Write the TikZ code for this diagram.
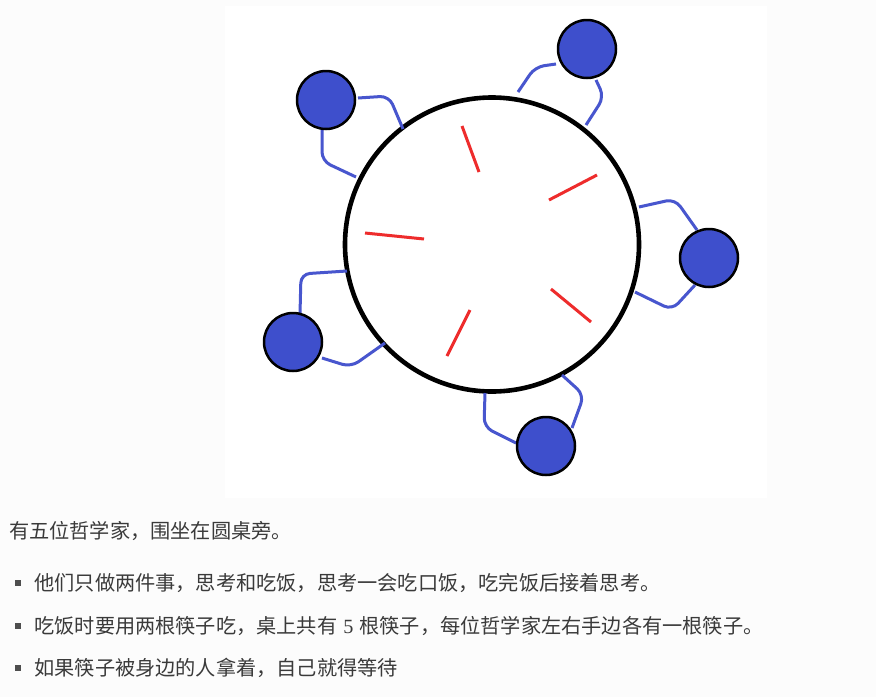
\documentclass[tikz,border=0pt]{standalone}
\usepackage{fontspec}
\newfontfamily\cjk{Noto Sans CJK SC}
\newfontfamily\numfont{Liberation Serif}
\usetikzlibrary{positioning}
\definecolor{philblue}{RGB}{62,79,204}
\definecolor{armblue}{RGB}{72,86,206}
\definecolor{stickred}{RGB}{238,44,44}
\definecolor{txtgray}{RGB}{58,58,58}
\definecolor{pagebg}{RGB}{252,252,252}
\tikzset{
  phil/.style={circle, draw=black, line width=2.5pt, fill=philblue, minimum size=58pt, inner sep=0pt},
  roundtable/.style={circle, draw=black, line width=4.6pt, fill=white, minimum size=294pt, inner sep=0pt},
  arm/.style={armblue, line width=3pt, rounded corners=9pt},
  stick/.style={stickred, line width=3pt},
  para/.style={txtgray, inner sep=0pt, font=\cjk\fontsize{20.2}{23}\selectfont},
  bulletbox/.style={rectangle, fill=txtgray!90, minimum size=6pt, inner sep=0pt}
}

\begin{document}
\begin{tikzpicture}[x=1pt, y=-1pt]
    % 背景
    \fill[pagebg] (0,0) rectangle (876,697);
    \fill[white] (225,6) rectangle (767,498);

    % 圆桌
    \node[roundtable] (tbl) at (492,244.5) {};

    % 筷子
    \draw[stick] (462,126) -- (479,172);
    \draw[stick] (597,175) -- (549,200);
    \draw[stick] (365,233) -- (424,239);
    \draw[stick] (551,289) -- (591,322);
    \draw[stick] (470,310) -- (447,356);

    % 手臂
    \draw[arm] (358,98) -- (389,96) -- (403,129);
    \draw[arm] (322,130) -- (322,161) -- (356,177);
    \draw[arm] (556,64) -- (535,67) -- (518,92);
    \draw[arm] (596,80) -- (604,97) -- (586,125);
    \draw[arm] (639,207) -- (675,199) -- (697,230);
    \draw[arm] (635,292) -- (672,310) -- (695,285);
    \draw[arm] (300,314) -- (301,274) -- (347,271);
    \draw[arm] (322,358) -- (351,367) -- (385,343);
    \draw[arm] (516,443) -- (484,427) -- (485,393);
    \draw[arm] (572,428) -- (584,395) -- (562,375);

    % 哲学家
    \node[phil] (p1) at (326,100) {};
    \node[phil] (p2) at (587,49) {};
    \node[phil] (p3) at (709,258) {};
    \node[phil] (p4) at (293,342) {};
    \node[phil] (p5) at (546,446) {};

    % 说明文字
    \node[para, anchor=west] (intro) at (9,531) {有五位哲学家，围坐在圆桌旁。};
    \node[bulletbox] (b1) at (18,583) {};
    \node[bulletbox] (b2) at (18,626) {};
    \node[bulletbox] (b3) at (18,668) {};
    \node[para, right=13pt of b1] (t1) {他们只做两件事，思考和吃饭，思考一会吃口饭，吃完饭后接着思考。};
    \node[para, right=13pt of b2] (t2) {吃饭时要用两根筷子吃，桌上共有\hspace{6pt}{\numfont 5}\hspace{6pt}根筷子，每位哲学家左右手边各有一根筷子。};
    \node[para, right=13pt of b3] (t3) {如果筷子被身边的人拿着，自己就得等待};
\end{tikzpicture}
\end{document}
